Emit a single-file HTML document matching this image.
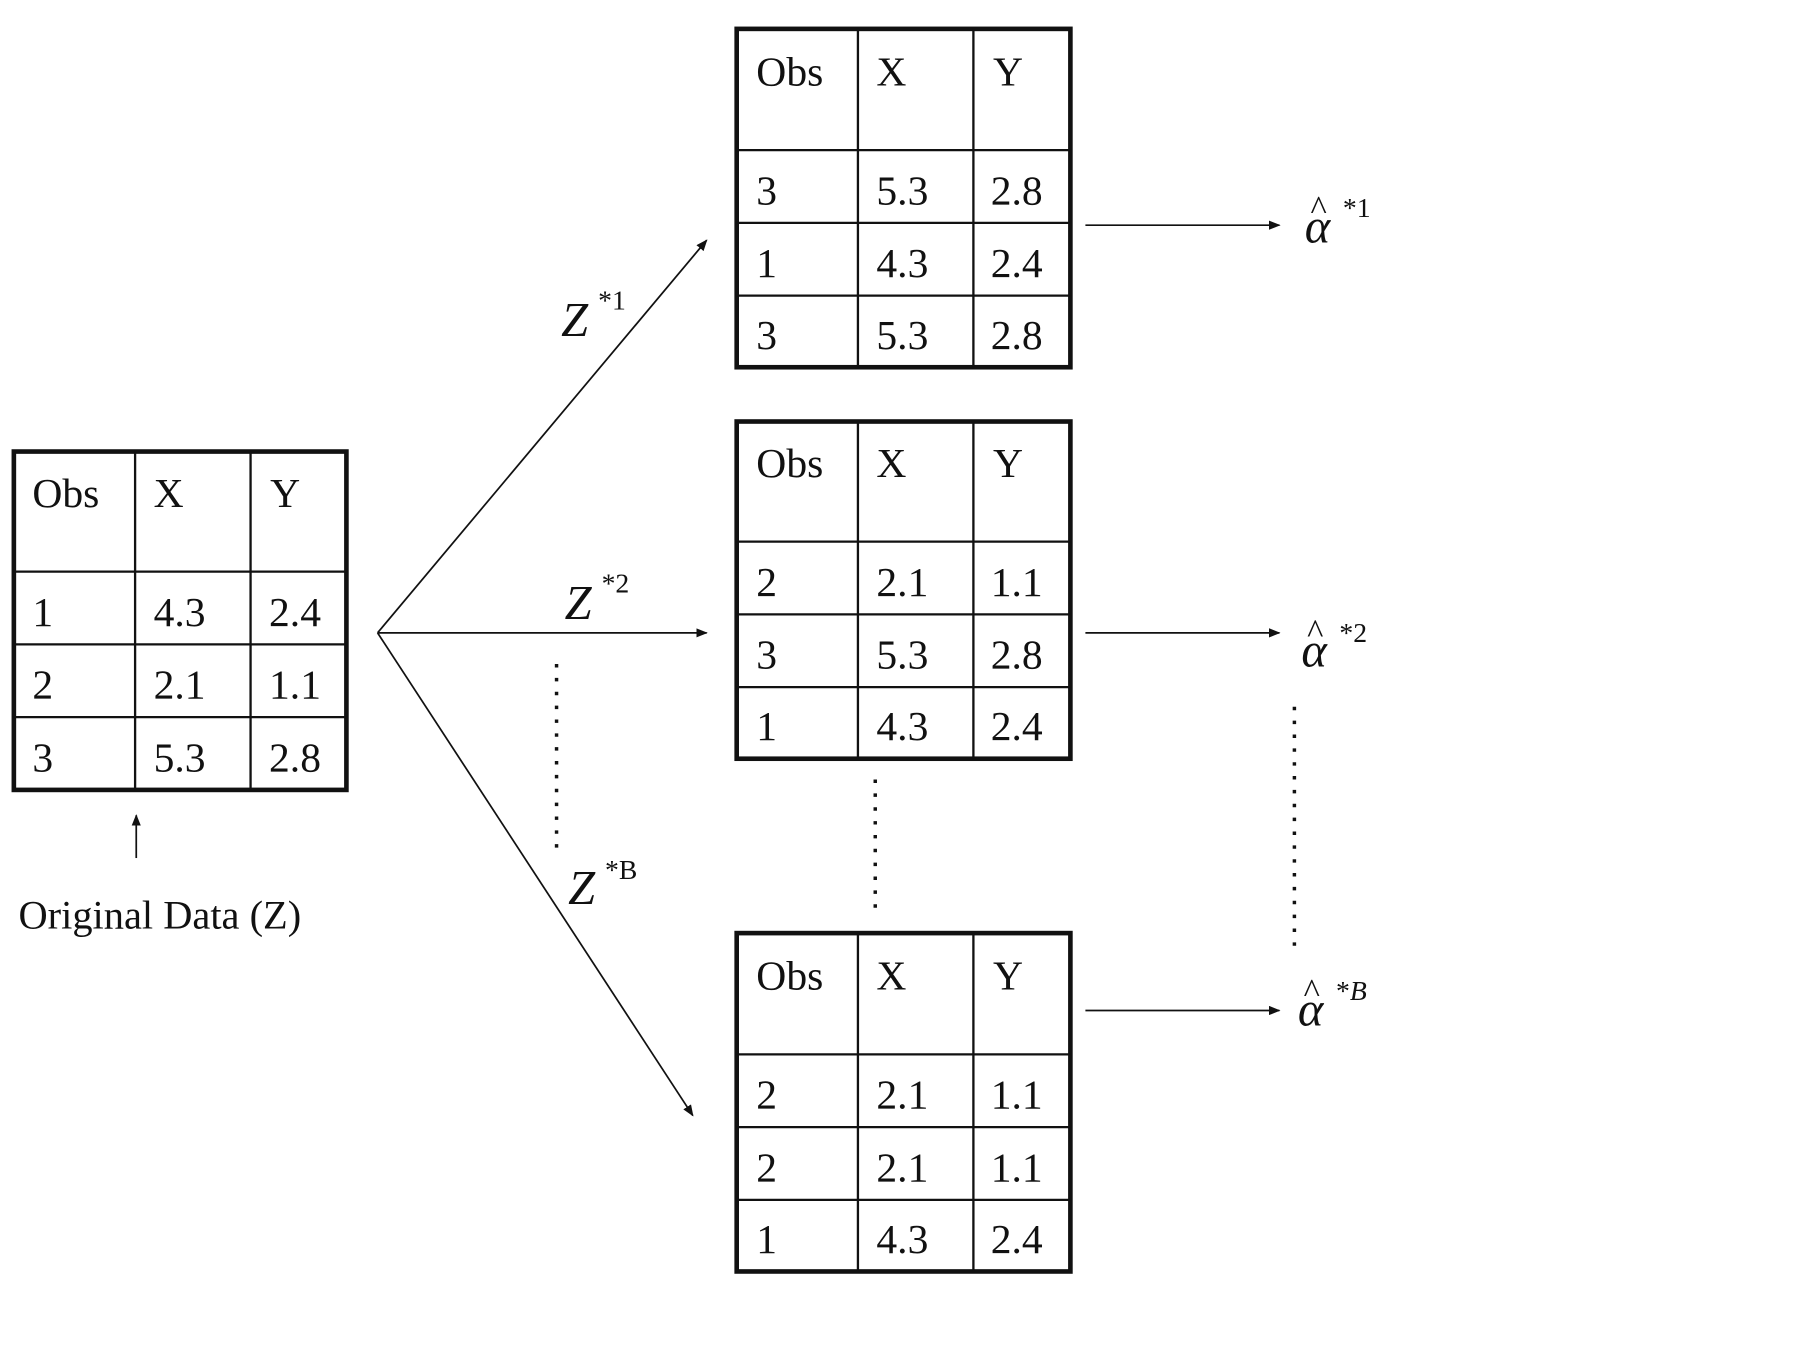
<!DOCTYPE html>
<html><head><meta charset="utf-8"><style>
html,body{margin:0;padding:0;background:#fff}
svg{display:block}
text{font-family:"Liberation Serif",serif;fill:#111}
</style></head><body>
<svg width="1799" height="1350" viewBox="0 0 1558 1169" preserveAspectRatio="none" xmlns="http://www.w3.org/2000/svg">
<defs>
<marker id="ah" markerWidth="10" markerHeight="8" refX="9" refY="4" orient="auto" markerUnits="userSpaceOnUse">
<path d="M0,0 L10,4 L0,8 z" fill="#111"/></marker>
</defs>
<g stroke="#111" fill="none">
<!-- left table -->
<rect x="12" y="391" width="288" height="293" stroke-width="4"/>
<path d="M117 391V684M217 391V684M12 495H300M12 558H300M12 621H300" stroke-width="2"/>
<!-- top -->
<rect x="638" y="25" width="289" height="293" stroke-width="4"/>
<path d="M743 25V318M843 25V318M638 130H927M638 193H927M638 256H927" stroke-width="2"/>
<!-- middle -->
<rect x="638" y="365" width="289" height="292" stroke-width="4"/>
<path d="M743 365V657M843 365V657M638 469H927M638 532H927M638 595H927" stroke-width="2"/>
<!-- bottom -->
<rect x="638" y="808" width="289" height="293" stroke-width="4"/>
<path d="M743 808V1101M843 808V1101M638 913H927M638 976H927M638 1039H927" stroke-width="2"/>
<!-- connectors -->
<line x1="327" y1="548" x2="612" y2="208" stroke-width="1.5" marker-end="url(#ah)"/>
<line x1="327" y1="548" x2="612" y2="548" stroke-width="1.5" marker-end="url(#ah)"/>
<line x1="327" y1="548" x2="600" y2="966" stroke-width="1.5" marker-end="url(#ah)"/>
<line x1="940" y1="195" x2="1108" y2="195" stroke-width="1.5" marker-end="url(#ah)"/>
<line x1="940" y1="548" x2="1108" y2="548" stroke-width="1.5" marker-end="url(#ah)"/>
<line x1="940" y1="875" x2="1108" y2="875" stroke-width="1.5" marker-end="url(#ah)"/>
<line x1="118" y1="743" x2="118" y2="706" stroke-width="1.5" marker-end="url(#ah)"/>
<!-- dots -->
<line x1="482" y1="575" x2="482" y2="740" stroke-width="3" stroke-dasharray="3,9"/>
<line x1="758" y1="675" x2="758" y2="792" stroke-width="3" stroke-dasharray="3,9"/>
<line x1="1121" y1="612" x2="1121" y2="824" stroke-width="3" stroke-dasharray="3,9"/>
</g>
<g font-size="36">
<text x="28" y="439">Obs</text><text x="133" y="439">X</text><text x="234" y="439">Y</text>
<text x="28" y="542">1</text><text x="133" y="542">4.3</text><text x="233" y="542">2.4</text>
<text x="28" y="605">2</text><text x="133" y="605">2.1</text><text x="233" y="605">1.1</text>
<text x="28" y="668">3</text><text x="133" y="668">5.3</text><text x="233" y="668">2.8</text>

<text x="655" y="74">Obs</text><text x="759" y="74">X</text><text x="860" y="74">Y</text>
<text x="655" y="177">3</text><text x="759" y="177">5.3</text><text x="858" y="177">2.8</text>
<text x="655" y="240">1</text><text x="759" y="240">4.3</text><text x="858" y="240">2.4</text>
<text x="655" y="302">3</text><text x="759" y="302">5.3</text><text x="858" y="302">2.8</text>

<text x="655" y="413">Obs</text><text x="759" y="413">X</text><text x="860" y="413">Y</text>
<text x="655" y="516">2</text><text x="759" y="516">2.1</text><text x="858" y="516">1.1</text>
<text x="655" y="579">3</text><text x="759" y="579">5.3</text><text x="858" y="579">2.8</text>
<text x="655" y="641">1</text><text x="759" y="641">4.3</text><text x="858" y="641">2.4</text>

<text x="655" y="857">Obs</text><text x="759" y="857">X</text><text x="860" y="857">Y</text>
<text x="655" y="960">2</text><text x="759" y="960">2.1</text><text x="858" y="960">1.1</text>
<text x="655" y="1023">2</text><text x="759" y="1023">2.1</text><text x="858" y="1023">1.1</text>
<text x="655" y="1085">1</text><text x="759" y="1085">4.3</text><text x="858" y="1085">2.4</text>
</g>
<text x="16" y="804" font-size="35">Original Data (Z)</text>
<g font-size="42" font-style="italic">
<text x="486" y="291">Z</text><text x="489" y="536">Z</text><text x="492" y="783">Z</text>
<text x="1130" y="210">α</text><text x="1127" y="577">α</text><text x="1124" y="888">α</text>
</g>
<g font-size="24">
<text x="518" y="268">*1</text><text x="521" y="513">*2</text><text x="524" y="761">*B</text>
<text x="1163" y="188">*1</text><text x="1160" y="556">*2</text><text x="1157" y="866">*<tspan font-style="italic">B</tspan></text>
</g>
<g font-size="30">
<text x="1135" y="190">^</text><text x="1132" y="557">^</text><text x="1129" y="868">^</text>
</g>
</svg>
</body></html>
